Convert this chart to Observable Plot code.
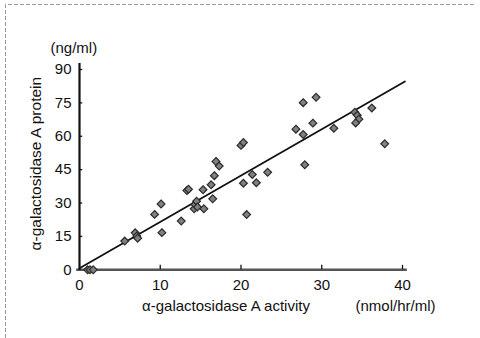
<!DOCTYPE html>
<html>
<head>
<meta charset="utf-8">
<script src="https://cdn.jsdelivr.net/npm/d3@7"></script>
<script src="https://cdn.jsdelivr.net/npm/@observablehq/plot@0.6"></script>
<style>
  html, body { margin: 0; padding: 0; background: #fff; overflow: hidden; }
  #wrap { width: 480px; height: 338px; overflow: hidden; }
  #wrap svg { display: block; }
</style>
</head>
<body>
<div id="wrap"></div>
<script>
// α-galactosidase A activity (nmol/hr/ml) vs protein (ng/ml)
const activity = [
  1.0, 1.3, 1.7,
  5.6, 6.9, 7.1, 7.2,
  9.3, 10.1, 10.2,
  12.6, 13.3, 13.5,
  14.2, 14.3, 14.5, 14.6,
  15.3, 15.4, 16.3, 16.5, 16.7, 16.9, 17.3,
  20.0, 20.3, 20.3, 20.7, 21.4, 21.9, 23.3,
  26.8, 27.7, 27.7, 27.9, 28.9, 29.3,
  31.5, 34.1, 34.4, 34.6, 34.2, 36.2, 37.8
];
const protein = [
  0, 0, 0,
  12.9, 16.6, 15.2, 14.2,
  24.9, 29.6, 16.7,
  21.9, 35.6, 36.2,
  27.4, 29.3, 30.8, 28.2,
  36.0, 27.4, 38.2, 31.9, 42.3, 48.7, 46.6,
  55.9, 57.2, 38.9, 24.8, 42.8, 39.1, 43.8,
  63.2, 75.1, 60.8, 47.2, 65.9, 77.5,
  63.6, 70.8, 69.4, 67.7, 66.0, 72.7, 56.6
];
// fitted regression line end points
const fitX = [0, 40.3];
const fitY = [0.7, 84.6];

const xTicks = [0, 10, 20, 30, 40];
const yTicks = [0, 15, 30, 45, 60, 75, 90];

const points = activity.map((a, i) => ({a, p: protein[i]}));
const fit = fitX.map((x, i) => ({x, y: fitY[i]}));

const fs = 15;
const chart = Plot.plot({
  width: 480,
  height: 338,
  marginLeft: 79,
  marginRight: 78,
  marginTop: 69,
  marginBottom: 68.7,
  style: {fontFamily: "'Liberation Sans', Arial, sans-serif", fontSize: fs + "px", background: "transparent", color: "#111"},
  x: {domain: [0, 40]},
  y: {domain: [0, 90]},
  marks: [
    // axis lines
    Plot.ruleY([0], {x1: -0.35, x2: 40.6, stroke: "#555", strokeWidth: 2.4}),
    Plot.ruleX([0], {y1: -0.3, y2: 92.7, stroke: "#111", strokeWidth: 2.2}),
    // inward ticks
    Plot.ruleX(xTicks.slice(1), {y1: 0, y2: 2, stroke: "#111", strokeWidth: 1.3}),
    Plot.ruleY(yTicks.slice(1), {x1: 0, x2: 0.4, stroke: "#111", strokeWidth: 1.3}),
    Plot.axisX({ticks: xTicks, tickSize: 0, tickPadding: 10, label: null, fontSize: fs}),
    Plot.axisY({ticks: yTicks, tickSize: 0, tickPadding: 8, label: null, fontSize: fs}),
    // regression line
    Plot.line(fit, {x: "x", y: "y", stroke: "#111", strokeWidth: 1.8}),
    // samples
    Plot.dot(points, {x: "a", y: "p", symbol: "diamond2", r: 3.5, fill: "#808080", stroke: "#2a2a2a", strokeWidth: 1.2}),
    // titles and units
    Plot.text(["(ng/ml)"], {frameAnchor: "top-left", textAnchor: "start", dx: -29, dy: -27, fontSize: fs}),
    Plot.text(["α-galactosidase A protein"], {frameAnchor: "left", textAnchor: "middle", rotate: -90, dx: -43, dy: -6, fontSize: 15.5}),
    Plot.text(["α-galactosidase A activity"], {frameAnchor: "bottom", textAnchor: "middle", dx: -15, dy: 41, fontSize: fs}),
    Plot.text(["(nmol/hr/ml)"], {frameAnchor: "bottom", textAnchor: "middle", dx: 154.5, dy: 41, fontSize: fs})
  ]
});

// dashed page border along the top and left edges
const svg = d3.select(chart);
svg.append("path")
  .attr("d", "M5.5,338V4.5H476")
  .attr("fill", "none")
  .attr("stroke", "#999")
  .attr("stroke-dasharray", "4,2");

document.getElementById("wrap").append(chart);
</script>
</body>
</html>
